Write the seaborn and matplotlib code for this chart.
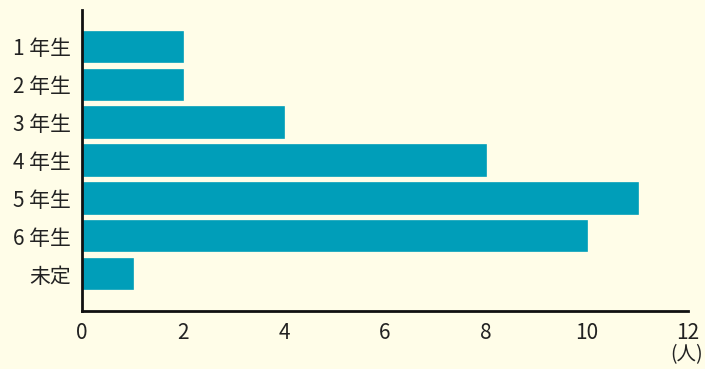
import matplotlib
matplotlib.use("Agg")
import matplotlib.pyplot as plt
import seaborn as sns
import pandas as pd

grades = ["1 年生", "2 年生", "3 年生", "4 年生", "5 年生", "6 年生", "未定"]
counts = [2, 2, 4, 8, 11, 10, 1]
x_ticks = [0, 2, 4, 6, 8, 10, 12]

bg = "#fffde8"
bar_color = "#009eb9"

sns.set_theme(style="white")
plt.rcParams["font.family"] = ["Noto Sans CJK JP", "DejaVu Sans"]

fig = plt.figure(figsize=(7.05, 3.69), dpi=100, facecolor=bg)
ax = fig.add_axes([82 / 705, 1 - 311 / 369, (688 - 82) / 705, (311 - 10) / 369])
ax.set_facecolor(bg)

df = pd.DataFrame({"grade": grades, "count": counts})
sns.barplot(data=df, x="count", y="grade", orient="h", color=bar_color,
            saturation=1, width=0.8, ax=ax, edgecolor=bar_color, linewidth=1.2)

ax.set_xlim(0, 12)
ax.set_ylim(len(grades) - 0.03, -0.97)
ax.set_xticks(x_ticks)
ax.set_xticklabels([str(t) for t in x_ticks])
ax.set_xlabel("")
ax.set_ylabel("")

for side in ("top", "right"):
    ax.spines[side].set_visible(False)
for side in ("left", "bottom"):
    ax.spines[side].set_color("#111111")
    ax.spines[side].set_linewidth(2)
    ax.spines[side].set_zorder(5)

ax.tick_params(axis="x", direction="in", length=10, width=1.5, color="#111111",
               labelsize=15, labelcolor="#222222", pad=8)
ax.tick_params(axis="y", direction="in", length=2, width=1.5, color="#111111",
               labelsize=15, labelcolor="#222222", pad=8)

fig.text(703 / 705, 1 - 355 / 369, "(人)", ha="right", va="center",
         fontsize=14, color="#222222")

fig.savefig("out.png", dpi=100, facecolor=bg)
